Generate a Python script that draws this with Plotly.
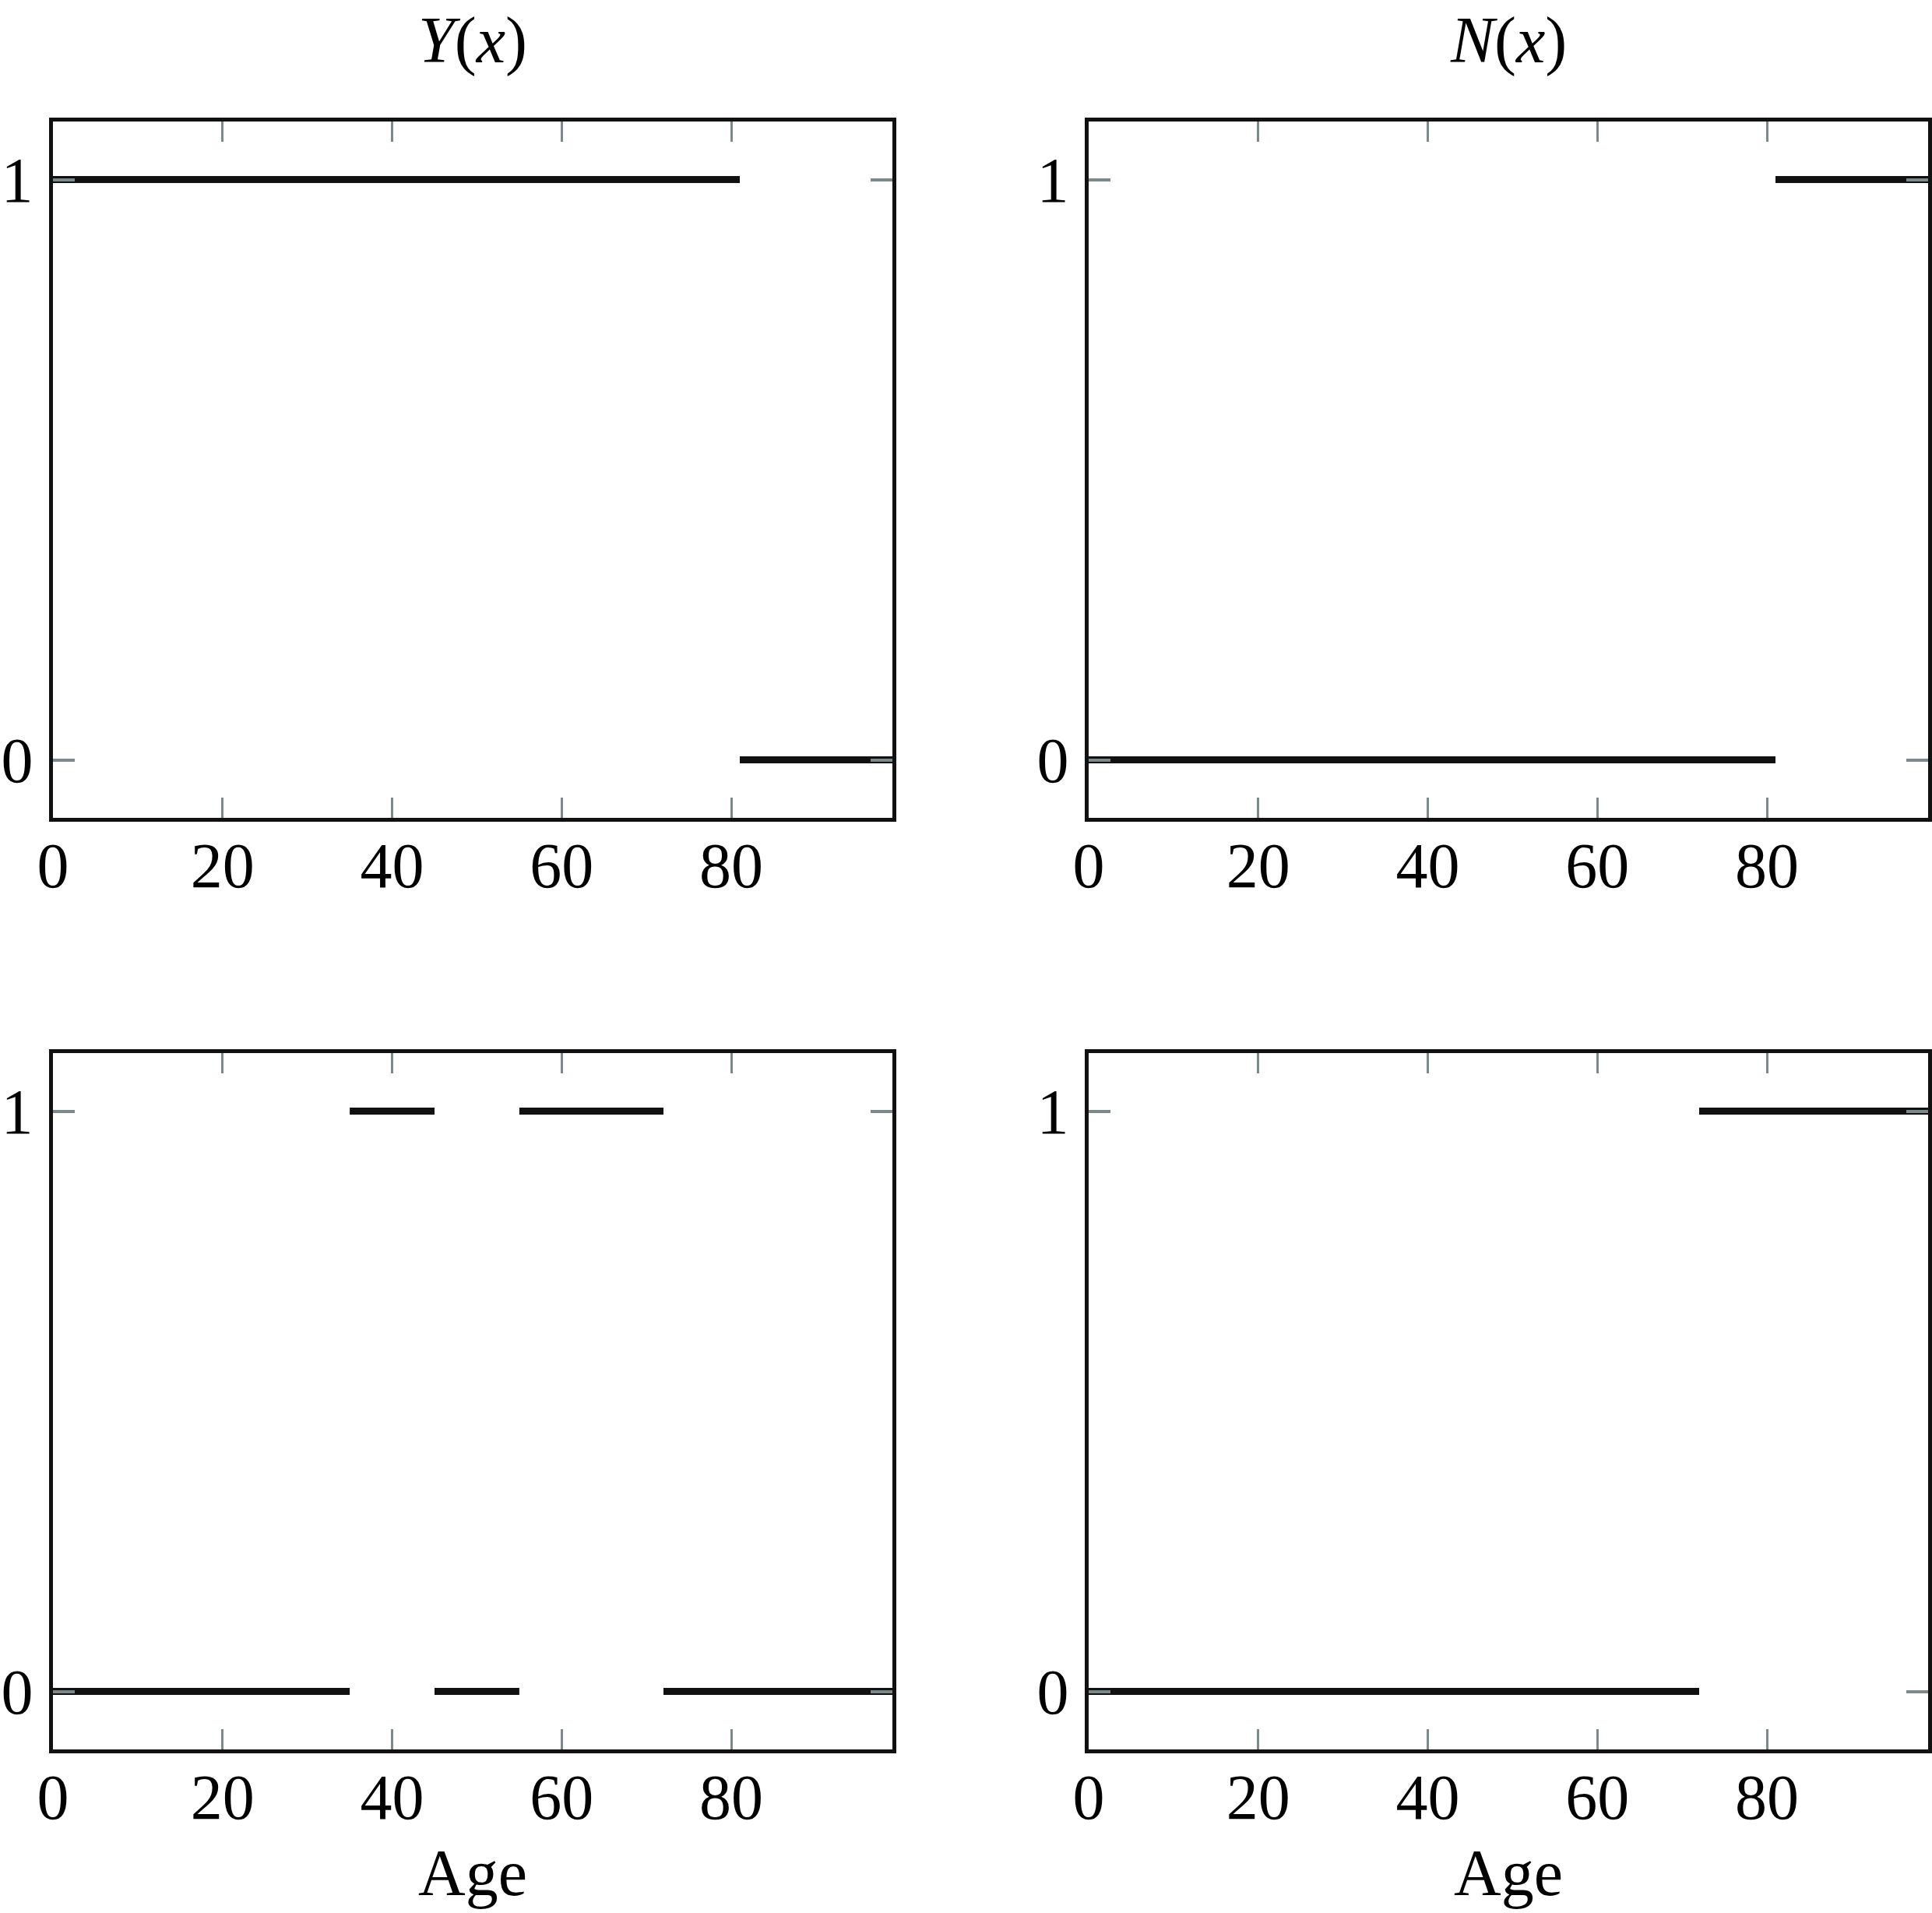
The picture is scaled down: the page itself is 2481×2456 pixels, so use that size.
import plotly.graph_objects as go

# Data: piecewise-constant indicator segments (start age, end age, value)
age_min, age_max = 0, 99
y_ticks = [0, 1]
x_ticks = [0, 20, 40, 60, 80]

Y_starts = [0, 81]
Y_ends = [81, 99]
Y_vals = [1, 0]

N_starts = [0, 81]
N_ends = [81, 99]
N_vals = [0, 1]

C_starts = [0, 35, 45, 55, 72]
C_ends = [35, 45, 55, 72, 99]
C_vals = [0, 1, 0, 1, 0]

D_starts = [0, 72]
D_ends = [72, 99]
D_vals = [0, 1]

panel_titles = ["<i>Y</i>(<i>x</i>)", "<i>N</i>(<i>x</i>)"]
x_label = "Age"

FONT = "Liberation Serif"
TICK_COLOR = "#7a8a8a"

W, H = 2481, 2456
# domains from pixel positions (inner edges of frame)
x_dom = [[68 / W, 1146 / W], [1398 / W, 2476 / W]]
y_dom = [[1 - 1050 / H, 1 - 156 / H], [1 - 2246 / H, 1 - 1352 / H]]


def segs(starts, ends, vals):
    xs, ys = [], []
    for s, e, v in zip(starts, ends, vals):
        xs += [s, e, None]
        ys += [v, v, None]
    return xs, ys


panels = [
    (Y_starts, Y_ends, Y_vals, 0, 0),
    (N_starts, N_ends, N_vals, 1, 0),
    (C_starts, C_ends, C_vals, 0, 1),
    (D_starts, D_ends, D_vals, 1, 1),
]

fig = go.Figure()
layout = dict(
    width=W, height=H,
    margin=dict(l=0, r=0, t=0, b=0, autoexpand=False),
    paper_bgcolor="white", plot_bgcolor="white",
    showlegend=False,
    font=dict(family=FONT, size=82, color="black"),
)

for i, (s, e, v, col, row) in enumerate(panels):
    n = i + 1
    xs, ys = segs(s, e, v)
    xa = "x" if n == 1 else f"x{n}"
    ya = "y" if n == 1 else f"y{n}"
    fig.add_trace(go.Scatter(x=xs, y=ys, mode="lines", xaxis=xa, yaxis=ya,
                             line=dict(color="#111111", width=9), hoverinfo="skip"))
    xkey = "xaxis" if n == 1 else f"xaxis{n}"
    ykey = "yaxis" if n == 1 else f"yaxis{n}"
    layout[xkey] = dict(
        domain=x_dom[col], anchor=ya, range=[age_min, age_max],
        tickvals=x_ticks, ticktext=[str(t) for t in x_ticks],
        ticks="inside", ticklen=26, tickwidth=3, tickcolor=TICK_COLOR,
        showline=True, linecolor="#111111", linewidth=5, mirror="ticks",
        showgrid=False, zeroline=False, ticklabelstandoff=-14, automargin=False,
        tickfont=dict(family=FONT, size=82, color="black"),
    )
    layout[ykey] = dict(
        domain=y_dom[row], anchor=xa, range=[-0.1, 1.1],
        tickvals=y_ticks, ticktext=[str(t) for t in y_ticks],
        ticks="inside", ticklen=28, tickwidth=4, tickcolor=TICK_COLOR,
        showline=True, linecolor="#111111", linewidth=5, mirror="ticks",
        showgrid=False, zeroline=False, ticklabelstandoff=4, automargin=False,
        tickfont=dict(family=FONT, size=82, color="black"),
    )

fig.update_layout(**layout)

annotations = []
for col, t in enumerate(panel_titles):
    cx = (x_dom[col][0] + x_dom[col][1]) / 2
    annotations.append(dict(text=t, x=cx, y=1 - 52 / H, xref="paper", yref="paper",
                            showarrow=False, xanchor="center", yanchor="middle",
                            font=dict(family=FONT, size=84, color="black")))
    annotations.append(dict(text=x_label, x=cx, y=1 - 2404 / H, xref="paper", yref="paper",
                            showarrow=False, xanchor="center", yanchor="middle",
                            font=dict(family=FONT, size=84, color="black")))
fig.update_layout(annotations=annotations)

fig.write_html("out.html",
               config={"displayModeBar": False},
               post_script="document.body.style.margin='0';document.body.style.padding='0';")
